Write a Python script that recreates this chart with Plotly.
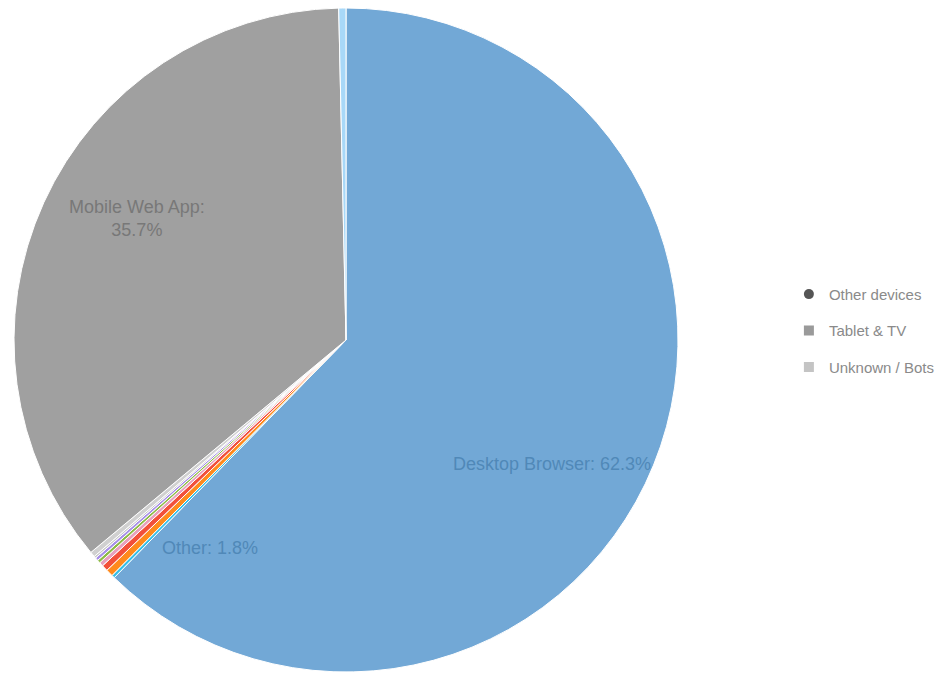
import plotly.graph_objects as go

# slice data (clockwise from 12 o'clock)
slice_labels = ["Desktop", "Tablet", "Smart TV", "Console", "Wearable", "Kiosk",
                "Car", "Unknown", "Bot", "Mobile", "Other"]
slice_values = [62.3, 0.15, 0.35, 0.3, 0.2, 0.15, 0.15, 0.1, 0.25, 35.7, 0.35]
slice_colors = ["#72A8D6", "#33BFE8", "#FF8A1C", "#F2503A", "#E8A0BE", "#8DBB45",
                "#A890E8", "#C8C8C8", "#D0D0D0", "#A0A0A0", "#A8D8F8"]

# data labels
label_texts = ["Mobile Web App:<br>35.7%", "Desktop Browser: 62.3%", "Other: 1.8%"]
label_colors = ["#787878", "#5088B8", "#5088B8"]
label_pos = [(129, 210), (544, 456), (202, 540)]

legend_names = ["Other devices", "Tablet & TV", "Unknown / Bots"]
legend_colors = ["#555555", "#9A9A9A", "#C4C4C4"]
legend_symbols = ["circle", "square", "square"]

W, H = 950, 678

fig = go.Figure()
fig.add_trace(go.Pie(
    labels=slice_labels, values=slice_values, sort=False, direction="clockwise",
    rotation=0, showlegend=False,
    marker=dict(colors=slice_colors, line=dict(color="white", width=1)),
    textinfo="none",
    domain=dict(x=[6/W, 670/W], y=[14/H, 1]),
    hoverinfo="label+percent",
))
for i, (n, c, s) in enumerate(zip(legend_names, legend_colors, legend_symbols)):
    fig.add_trace(go.Scatter(x=[None], y=[None], mode="markers", name=n,
                             legendgroup=f"g{i}",
                             marker=dict(color=c, symbol=s, size=10)))

for t, c, (px, py) in zip(label_texts, label_colors, label_pos):
    fig.add_annotation(text=t, x=px/W, y=1-py/H, xref="paper", yref="paper",
                       xanchor="center", yanchor="middle",
                       showarrow=False, align="center",
                       font=dict(color=c, size=18, family="Liberation Sans"))

fig.update_layout(
    width=W, height=H, margin=dict(l=0, r=0, t=0, b=0),
    paper_bgcolor="white", plot_bgcolor="white",
    xaxis=dict(visible=False), yaxis=dict(visible=False),
    legend=dict(x=0.822, y=0.602, xanchor="left", yanchor="top",
                font=dict(color="#8A8A8A", size=15, family="Liberation Sans"),
                traceorder="grouped", tracegroupgap=14),
)
fig.write_html("out.html")
